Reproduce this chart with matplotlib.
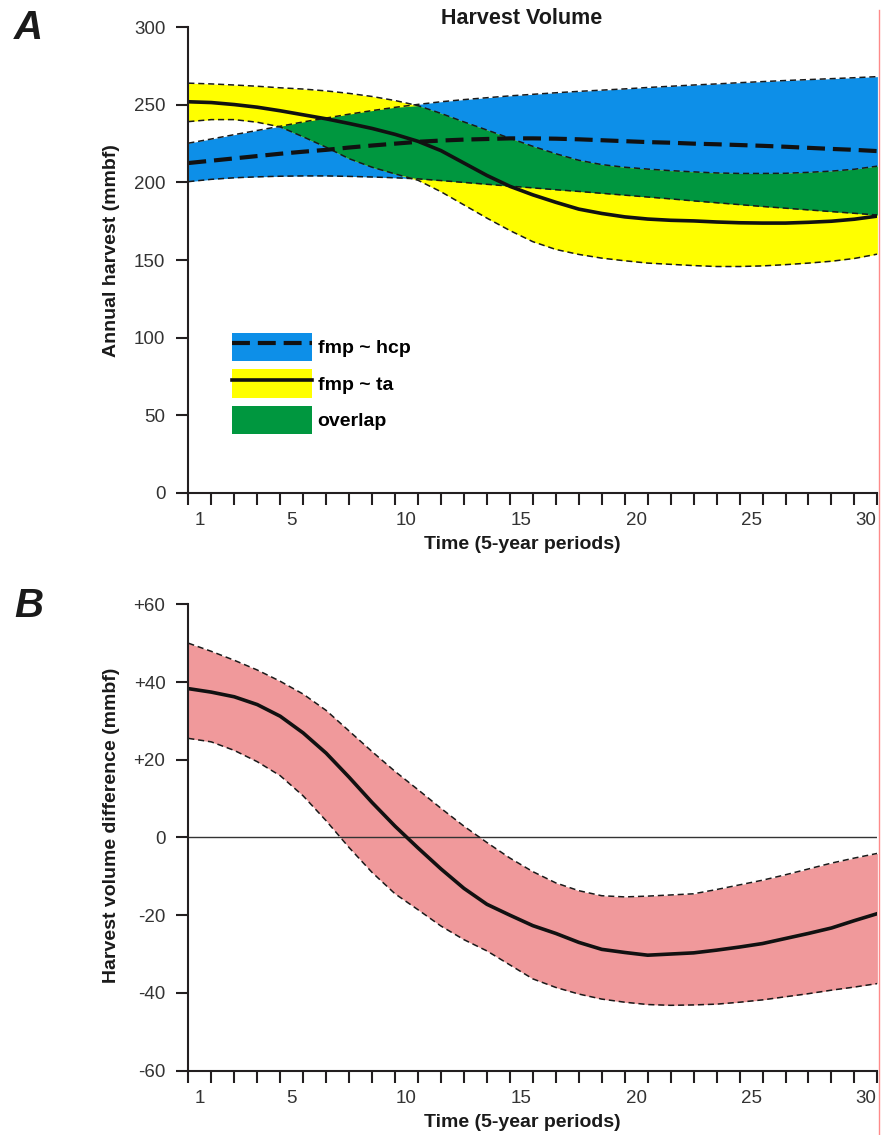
import numpy as np
import matplotlib
matplotlib.use("Agg")
from matplotlib import pyplot as plt
from matplotlib.patches import Patch
from matplotlib.lines import Line2D

plt.rcParams['font.family'] = ['Liberation Sans', 'DejaVu Sans']

# Periods (values read at period boundaries 0.5 ... 30.5)
periods = np.arange(0.5, 31.0, 1.0)
tick_periods = [1, 5, 10, 15, 20, 25, 30]

# Panel A: annual harvest (mmbf)
ta_mid = [252.0, 251.5, 250.2, 248.5, 246.2, 243.6, 241.0, 238.0, 234.8, 231.0, 226.5,
          220.5, 212.5, 204.5, 197.5, 192.0, 187.2, 182.8, 180.0, 177.8, 176.4,
          175.6, 175.2, 174.5, 174.0, 173.8, 173.8, 174.3, 175.0, 176.3, 178.3]
ta_hi = [264.0, 263.5, 262.8, 262.0, 261.0, 260.2, 259.0, 257.4, 255.4, 252.8, 249.5,
         244.5, 239.0, 233.8, 228.5, 223.3, 218.5, 214.3, 211.5, 209.8, 208.6,
         207.6, 206.8, 206.1, 205.8, 205.8, 205.9, 206.5, 207.3, 208.5, 210.5]
ta_lo = [239.2, 240.5, 240.5, 238.8, 235.8, 229.4, 222.7, 215.3, 209.8, 205.5, 201.4,
         194.0, 185.5, 177.0, 169.0, 161.8, 156.8, 153.6, 151.2, 149.5, 148.0,
         147.2, 146.4, 145.8, 145.8, 146.2, 147.0, 148.0, 149.2, 151.0, 153.8]

hcp_mid = [212.5, 214.0, 215.5, 217.0, 218.5, 219.8, 221.0, 222.5, 223.8, 225.0, 226.2,
           227.0, 227.6, 228.0, 228.4, 228.4, 228.2, 227.8, 227.2, 226.6, 226.0,
           225.6, 225.0, 224.6, 224.1, 223.6, 223.0, 222.3, 221.6, 221.0, 220.2]
hcp_hi = [225.3, 228.0, 230.8, 233.5, 236.2, 239.0, 241.5, 244.0, 246.3, 248.4, 250.3,
          252.0, 253.4, 254.6, 255.8, 256.8, 257.8, 258.7, 259.5, 260.3, 261.2,
          262.0, 262.8, 263.5, 264.3, 265.0, 265.7, 266.3, 266.9, 267.5, 268.2]
hcp_lo = [200.5, 202.0, 203.0, 203.6, 204.0, 204.2, 204.2, 203.9, 203.5, 203.0, 202.3,
          201.2, 200.0, 198.8, 197.6, 196.5, 195.3, 194.2, 193.0, 191.8, 190.6,
          189.4, 188.1, 186.9, 185.7, 184.5, 183.4, 182.3, 181.2, 180.1, 179.0]

# Panel B: harvest volume difference (mmbf)
diff_mid = [38.3, 37.4, 36.2, 34.2, 31.2, 26.9, 21.7, 15.5, 9.0, 2.9, -2.7,
            -8.1, -13.1, -17.2, -20.0, -22.7, -24.7, -27.0, -28.8, -29.6, -30.3,
            -30.0, -29.7, -29.0, -28.2, -27.3, -26.0, -24.7, -23.3, -21.4, -19.6]
diff_hi = [50.0, 47.9, 45.6, 43.1, 40.2, 36.9, 32.7, 27.4, 22.1, 17.0, 12.3,
           7.5, 2.9, -1.3, -5.3, -8.8, -11.7, -13.7, -15.0, -15.3, -15.1,
           -14.8, -14.5, -13.4, -12.2, -11.0, -9.6, -8.1, -6.6, -5.3, -4.1]
diff_lo = [25.5, 24.6, 22.4, 19.5, 15.9, 10.7, 4.3, -2.6, -9.0, -14.5, -18.6,
           -22.8, -26.3, -29.2, -32.8, -36.4, -38.6, -40.3, -41.6, -42.4, -43.0,
           -43.2, -43.1, -42.9, -42.4, -41.8, -41.0, -40.2, -39.3, -38.5, -37.6]

a_yticks = [0, 50, 100, 150, 200, 250, 300]
b_yticks = [-60, -40, -20, 0, 20, 40, 60]
b_ylabels = ['-60', '-40', '-20', '0', '+20', '+40', '+60']

BLUE = '#0d8fe8'
YELLOW = '#ffff00'
GREEN = '#00973f'
PINK = '#f0999b'
W, H = 881, 1135

fig = plt.figure(figsize=(W / 100, H / 100), dpi=100)
axA = fig.add_axes([188.3 / W, 1 - 492.7 / H, 689.1 / W, 465.4 / H])
axB = fig.add_axes([188.3 / W, 1 - 1070.6 / H, 689.1 / W, 466.3 / H])


def style_axis(ax):
    for s in ['top', 'right']:
        ax.spines[s].set_visible(False)
    for s in ['left', 'bottom']:
        ax.spines[s].set_linewidth(1.5)
        ax.spines[s].set_color('#231f20')
    ax.set_xlim(0.5, 30.5)
    ax.set_xticks(tick_periods)
    ax.set_xticks(periods, minor=True)
    ax.tick_params(axis='x', which='major', length=0, pad=14, labelsize=13.5, labelcolor='#333333')
    ax.tick_params(axis='x', which='minor', length=8.5, width=1.5, color='#231f20')
    ax.tick_params(axis='y', length=8.5, width=1.5, pad=8, labelsize=13.5,
                   color='#231f20', labelcolor='#333333')
    ax.text(0.484, -0.112, 'Time (5-year periods)', transform=ax.transAxes,
            ha='center', va='center', fontsize=14, fontweight='bold', color='#1a1a1a')


# Panel A
style_axis(axA)
axA.set_ylim(0, 300)
axA.set_yticks(a_yticks)
axA.fill_between(periods, hcp_lo, hcp_hi, color=BLUE, lw=0)
axA.fill_between(periods, ta_lo, ta_hi, color=YELLOW, lw=0)
ov_lo = np.maximum(ta_lo, hcp_lo)
ov_hi = np.minimum(ta_hi, hcp_hi)
axA.fill_between(periods, ov_lo, ov_hi, where=ov_hi > ov_lo, interpolate=True, color=GREEN, lw=0)
for band in [ta_hi, ta_lo, hcp_hi, hcp_lo]:
    axA.plot(periods, band, color='#1a1a1a', lw=1.1, dashes=(4, 2.5))
axA.plot(periods, ta_mid, color='#111111', lw=2.6, solid_capstyle='butt')
axA.plot(periods, hcp_mid, color='#111111', lw=3.0, dashes=(4.3, 1.9))
axA.text(-0.111, 0.521, 'Annual harvest (mmbf)', transform=axA.transAxes, rotation=90,
         ha='center', va='center', fontsize=14, fontweight='bold', color='#1a1a1a')

handles = [(Patch(facecolor=BLUE, lw=0), Line2D([], [], color='#111111', lw=3.0, dashes=(4.3, 1.9))),
           (Patch(facecolor=YELLOW, lw=0), Line2D([], [], color='#111111', lw=2.6)),
           Patch(facecolor=GREEN, lw=0)]
axA.legend(handles, ['fmp ~ hcp', 'fmp ~ ta', 'overlap'], loc='upper left',
           bbox_to_anchor=(0.0634, 0.343), frameon=False, borderpad=0, borderaxespad=0,
           handlelength=4.1, handleheight=1.85, labelspacing=0.42, handletextpad=0.3,
           prop={'size': 14, 'weight': 'bold'})

# Panel B
style_axis(axB)
axB.set_ylim(-60, 60)
axB.set_yticks(b_yticks)
axB.set_yticklabels(b_ylabels)
axB.fill_between(periods, diff_lo, diff_hi, color=PINK, lw=0)
axB.axhline(0, color='#333333', lw=1.0)
for band in [diff_hi, diff_lo]:
    axB.plot(periods, band, color='#1a1a1a', lw=1.1, dashes=(4, 2.5))
axB.plot(periods, diff_mid, color='#111111', lw=2.6)
axB.text(-0.111, 0.526, 'Harvest volume difference (mmbf)', transform=axB.transAxes, rotation=90,
         ha='center', va='center', fontsize=14, fontweight='bold', color='#1a1a1a')

# Titles and panel letters
fig.text(521.7 / W, 1 - 18 / H, 'Harvest Volume', ha='center', va='center',
         fontsize=15.5, fontweight='bold', color='#1a1a1a')
fig.text(28 / W, 1 - 28 / H, 'A', ha='center', va='center', fontsize=29,
         fontweight='bold', fontstyle='italic', color='#1a1a1a')
fig.text(29 / W, 1 - 606 / H, 'B', ha='center', va='center', fontsize=29,
         fontweight='bold', fontstyle='italic', color='#1a1a1a')

# thin red frame edge at the right
fig.add_artist(Line2D([878.5 / W, 878.5 / W], [0, 1 - 10 / H], transform=fig.transFigure,
                      color='#ff8a8a', lw=1.0))

fig.savefig('out.png', dpi=100)
